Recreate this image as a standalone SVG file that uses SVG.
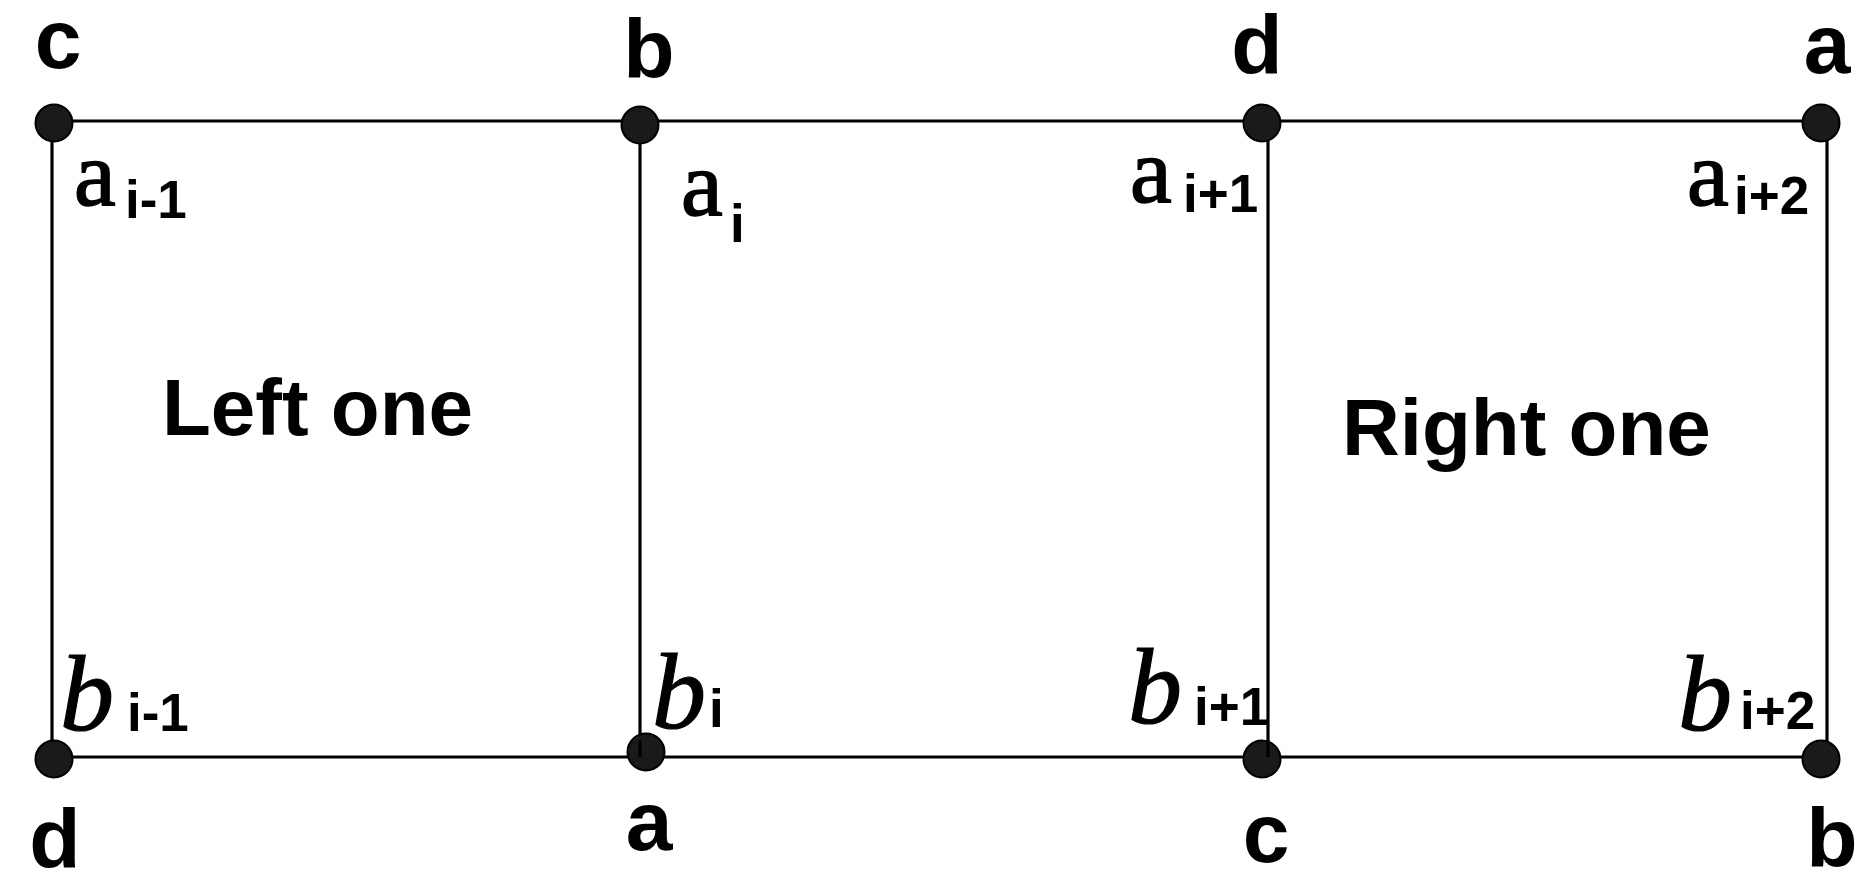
<svg xmlns="http://www.w3.org/2000/svg" width="1875" height="894" viewBox="0 0 1875 894">
<style>
.ln{stroke:#000;stroke-width:3.2;fill:none}
.pt{fill:#1a1a1a;stroke:#000;stroke-width:2}
.lab{font-family:"Liberation Sans",Arial,sans-serif;font-weight:bold;font-size:84px;fill:#000;text-anchor:middle}
.sa{font-family:"Liberation Serif","Times New Roman",serif;font-size:94px;fill:#000;stroke:#000;stroke-width:1.6}
.sb{font-family:"Liberation Serif","Times New Roman",serif;font-style:italic;font-size:108px;fill:#000;stroke:#000;stroke-width:1.2}
.sub{font-family:"Liberation Sans",Arial,sans-serif;font-weight:bold;font-size:53px;fill:#000}
.reg{font-family:"Liberation Sans",Arial,sans-serif;font-weight:bold;font-size:80px;fill:#000}
</style>
<rect width="1875" height="894" fill="#fff"/>
<g id="connectors">
<line class="ln" x1="54" y1="121" x2="1821" y2="121"/>
<line class="ln" x1="54" y1="757" x2="1821" y2="757"/>
<line class="ln" x1="52" y1="123" x2="52" y2="759"/>
<line class="ln" x1="640" y1="125" x2="640" y2="757"/>
<line class="ln" x1="1268" y1="123" x2="1268" y2="757"/>
<line class="ln" x1="1827" y1="123" x2="1827" y2="759"/>
</g>
<g id="node-top-c">
<circle class="pt" cx="54" cy="123" r="18.5"/>
<text class="lab" x="58" y="68">c</text>
<text class="sa" x="74" y="205">a</text><text class="sub" x="125" y="218">i-1</text>
</g>
<g id="node-top-b">
<circle class="pt" cx="640" cy="125" r="18.5"/>
<text class="lab" x="649" y="78">b</text>
<text class="sa" x="681" y="215">a</text><text class="sub" x="730" y="242">i</text>
</g>
<g id="node-top-d">
<circle class="pt" cx="1262" cy="123" r="18.5"/>
<text class="lab" x="1257" y="74">d</text>
<text class="sa" x="1130" y="202">a</text><text class="sub" x="1183" y="212">i+1</text>
</g>
<g id="node-top-a">
<circle class="pt" cx="1821" cy="123" r="18.5"/>
<text class="lab" x="1827" y="73">a</text>
<text class="sa" x="1687" y="205">a</text><text class="sub" x="1734" y="214">i+2</text>
</g>
<g id="node-bottom-d">
<circle class="pt" cx="54" cy="759" r="18.5"/>
<text class="lab" x="55" y="868">d</text>
<text class="sb" x="60" y="730">b</text><text class="sub" x="127" y="731">i-1</text>
</g>
<g id="node-bottom-a">
<circle class="pt" cx="646" cy="752" r="18.5"/>
<line class="ln" x1="640" y1="740" x2="640" y2="757"/>
<text class="lab" x="649" y="850">a</text>
<text class="sb" x="652" y="728">b</text><text class="sub" x="709" y="727">i</text>
</g>
<g id="node-bottom-c">
<circle class="pt" cx="1262" cy="759" r="18.5"/>
<line class="ln" x1="1268" y1="740" x2="1268" y2="757"/>
<text class="lab" x="1266" y="862">c</text>
<text class="sb" x="1128" y="723">b</text><text class="sub" x="1194" y="725">i+1</text>
</g>
<g id="node-bottom-b">
<circle class="pt" cx="1821" cy="759" r="18.5"/>
<text class="lab" x="1832" y="867">b</text>
<text class="sb" x="1678" y="730">b</text><text class="sub" x="1740" y="729">i+2</text>
</g>
<g id="region-left">
<text class="reg" x="162" y="435">Left one</text>
</g>
<g id="region-right">
<text class="reg" x="1342" y="455">Right one</text>
</g>
</svg>
